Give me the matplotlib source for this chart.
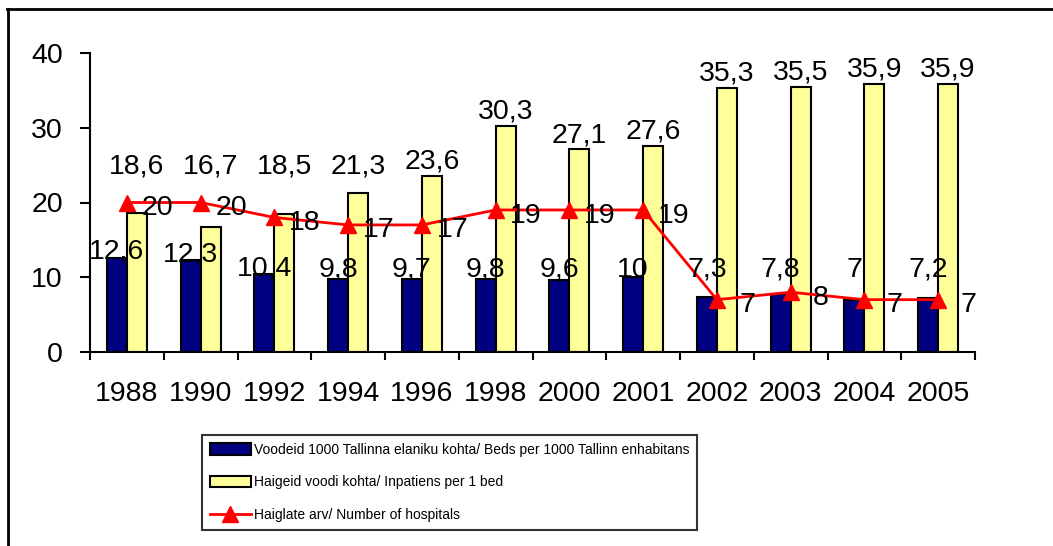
import matplotlib
matplotlib.use('Agg')
from matplotlib import pyplot as plt
from matplotlib.lines import Line2D
import numpy as np

years = ['1988', '1990', '1992', '1994', '1996', '1998', '2000', '2001', '2002', '2003', '2004', '2005']
beds = [12.6, 12.3, 10.4, 9.8, 9.7, 9.8, 9.6, 10.0, 7.3, 7.8, 7.0, 7.2]
inpatients = [18.6, 16.7, 18.5, 21.3, 23.6, 30.3, 27.1, 27.6, 35.3, 35.5, 35.9, 35.9]
hospitals = [20, 20, 18, 17, 17, 19, 19, 19, 7, 8, 7, 7]

lbl_beds = 'Voodeid 1000 Tallinna elaniku kohta/ Beds per 1000 Tallinn enhabitans'
lbl_inp = 'Haigeid voodi kohta/ Inpatiens per 1 bed'
lbl_hosp = 'Haiglate arv/ Number of hospitals'

plt.rcParams['font.family'] = ['Liberation Sans', 'DejaVu Sans']

def fmt(v):
    # comma as decimal separator, drop trailing ,0
    s = ('%.1f' % v).replace('.', ',')
    return s[:-2] if s.endswith(',0') else s

fig = plt.figure(figsize=(10.53, 5.46), dpi=100)
ax = fig.add_axes([90/1053, 1-352/546, 885/1053, 299/546])

x = np.arange(len(years))
w = 0.27
b1 = ax.bar(x - w/2, beds, w, color='#000080', edgecolor='black', linewidth=1.5, zorder=2, label=lbl_beds)
b2 = ax.bar(x + w/2, inpatients, w, color='#FFFF99', edgecolor='black', linewidth=1.5, zorder=2, label=lbl_inp)
l1, = ax.plot(x, hospitals, color='red', linewidth=2, marker='^', markersize=11, zorder=3, label=lbl_hosp)

for i in range(len(years)):
    ax.text(x[i] - w/2, max(beds[i] + 0.8, 11.0), fmt(beds[i]), ha='center', va='center', fontsize=20.5, zorder=4)
    ax.text(x[i] + w/2, max(inpatients[i] + 1.9, 24.8), fmt(inpatients[i]), ha='center', va='center', fontsize=20.5, zorder=4)
    ax.annotate(fmt(hospitals[i]), (x[i], hospitals[i]), xytext=(22, -4), textcoords='offset points',
                ha='center', va='center', fontsize=20.5, zorder=4)

ax.set_xlim(-0.5, len(years) - 0.5)
ax.set_ylim(0, 40)
ax.set_yticks([0, 10, 20, 30, 40])
ax.set_xticks(x)
ax.set_xticklabels(years)
ax.set_xticks(np.arange(len(years) + 1) - 0.5, minor=True)
ax.tick_params(axis='x', which='major', length=0, pad=21, labelsize=20.5)
ax.tick_params(axis='x', which='minor', length=6, width=1.5, direction='out')
ax.tick_params(axis='y', length=7.5, width=1.5, direction='out', pad=12, labelsize=20.5)
for s in ['top', 'right']:
    ax.spines[s].set_visible(False)
for s in ['left', 'bottom']:
    ax.spines[s].set_linewidth(1.5)

leg = fig.legend([b1, b2, l1], [lbl_beds, lbl_inp, lbl_hosp], loc='upper left',
                 bbox_to_anchor=(202/1053, 1-435/546), fontsize=10,
                 frameon=True, fancybox=False, edgecolor='black', handlelength=3.0,
                 handleheight=0.9, handletextpad=0.2, labelspacing=1.35, borderpad=0.55,
                 borderaxespad=0)
leg.get_frame().set_linewidth(1.5)

# outer chart frame (cropped at right and bottom)
fig.add_artist(Line2D([7/1053, 1], [1-9/546, 1-9/546], color='black', linewidth=2, transform=fig.transFigure))
fig.add_artist(Line2D([8/1053, 8/1053], [0, 1-9/546], color='black', linewidth=2, transform=fig.transFigure))

plt.savefig('out.png', dpi=100)
